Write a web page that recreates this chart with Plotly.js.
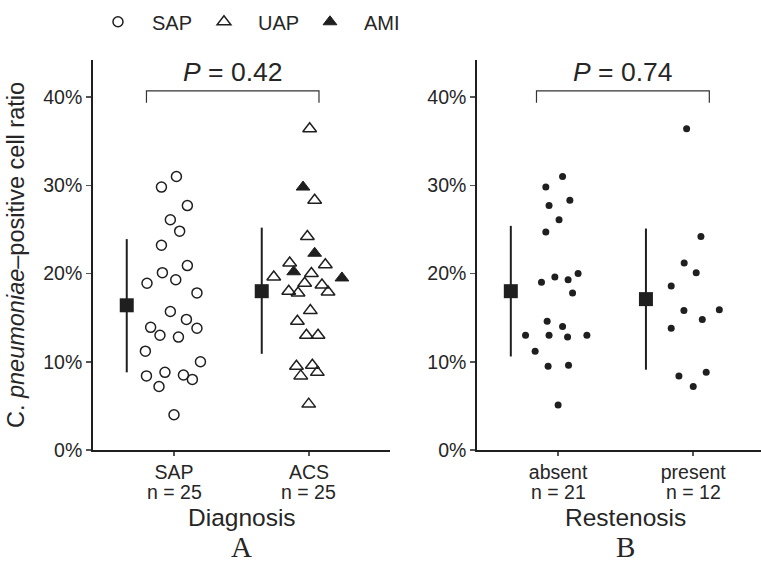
<!DOCTYPE html>
<html>
<head>
<meta charset="utf-8">
<script src="https://cdn.plot.ly/plotly-3.0.1.min.js"></script>
<style>html,body{margin:0;padding:0;background:#fff;overflow:hidden}#chart{width:761px;height:565px}</style>
</head>
<body>
<div id="chart"></div>
<script>
// ---- Data (percent values) ----
// Panel A: Diagnosis
var sapValues = [31.0, 29.8, 27.7, 26.1, 24.8, 23.2, 20.9, 20.1, 19.3, 18.9, 17.8, 15.7, 14.8, 13.9, 13.8, 13.0, 12.8, 11.2, 10.0, 8.4, 8.8, 8.5, 8.0, 7.2, 4.0];
var sapJitter = [0.018, -0.093, 0.099, -0.027, 0.042, -0.093, 0.099, -0.086, 0.013, -0.2, 0.17, -0.027, 0.092, -0.173, 0.17, -0.104, 0.033, -0.212, 0.196, -0.204, -0.067, 0.07, 0.136, -0.111, 0.0];
var uapValues = [36.4, 28.3, 24.2, 21.2, 21.0, 20.0, 19.6, 18.9, 18.7, 18.0, 17.8, 17.9, 15.8, 14.6, 13.0, 13.0, 9.5, 9.6, 8.4, 8.8, 5.2];
var uapJitter = [0.005, 0.042, -0.012, -0.143, 0.121, 0.018, -0.261, -0.032, 0.096, -0.15, -0.081, 0.141, 0.01, -0.086, -0.019, 0.067, -0.093, 0.025, -0.061, 0.062, -0.002];
var amiValues = [29.8, 22.3, 20.2, 19.5];
var amiJitter = [-0.044, 0.042, -0.113, 0.244];
var diagCategories = ['SAP', 'ACS'];
var diagN = [25, 25];
var diagMean = [16.4, 18.0];
var diagLow = [8.8, 10.9];
var diagHigh = [23.9, 25.2];
var diagPValue = '0.42';

// Panel B: Restenosis
var absentValues = [31.0, 29.8, 28.3, 27.7, 26.1, 24.7, 20.0, 19.6, 19.3, 19.0, 17.8, 14.6, 14.0, 13.0, 13.0, 12.8, 11.2, 9.5, 9.6, 5.1, 13.0];
var absentJitter = [0.033, -0.091, 0.087, -0.067, 0.007, -0.091, 0.148, -0.024, 0.074, -0.123, 0.107, -0.081, 0.033, -0.241, -0.067, 0.07, -0.17, -0.074, 0.077, 0, 0.213];
var presentValues = [36.4, 24.2, 21.2, 20.1, 18.6, 15.8, 15.9, 14.8, 13.8, 8.4, 8.8, 7.2];
var presentJitter = [-0.049, 0.057, -0.067, 0.022, -0.163, -0.069, 0.193, 0.067, -0.163, -0.106, 0.096, 0];
var restCategories = ['absent', 'present'];
var restN = [21, 12];
var restMean = [18.0, 17.1];
var restLow = [10.6, 9.1];
var restHigh = [25.4, 25.1];
var restPValue = '0.74';

var yTicks = [0, 10, 20, 30, 40];

// ---- Styles ----
var ink = '#1f1f1f';
var textCol = '#262626';
var sans = 'Liberation Sans, Arial, Helvetica, sans-serif';
var serif = 'Liberation Serif, Times New Roman, serif';
var summaryOffset = -0.35;

function place(cat, jit) { return jit.map(function (j) { return cat + j; }); }

var traces = [];
traces.push({
  x: place(1, sapJitter), y: sapValues, xaxis: 'x', yaxis: 'y',
  type: 'scatter', mode: 'markers', name: 'SAP', showlegend: true,
  marker: { symbol: 'circle-open', size: 10, color: ink, line: { width: 1.5, color: ink } },
  hoverinfo: 'y'
});
traces.push({
  x: place(2, uapJitter), y: uapValues, xaxis: 'x', yaxis: 'y',
  type: 'scatter', mode: 'markers', name: 'UAP', showlegend: true,
  marker: { symbol: 'triangle-up-open', size: 12, color: ink, line: { width: 1.5, color: ink } },
  hoverinfo: 'y'
});
traces.push({
  x: place(2, amiJitter), y: amiValues, xaxis: 'x', yaxis: 'y',
  type: 'scatter', mode: 'markers', name: 'AMI', showlegend: true,
  marker: { symbol: 'triangle-up', size: 12, color: ink, line: { width: 1, color: ink } },
  hoverinfo: 'y'
});
traces.push({
  x: [1 + summaryOffset, 2 + summaryOffset], y: diagMean, xaxis: 'x', yaxis: 'y',
  type: 'scatter', mode: 'markers', showlegend: false,
  marker: { symbol: 'square', size: 14, color: ink },
  error_y: { type: 'data', symmetric: false,
    array: diagHigh.map(function (h, i) { return h - diagMean[i]; }),
    arrayminus: diagLow.map(function (l, i) { return diagMean[i] - l; }),
    color: ink, thickness: 2, width: 0 }
});
traces.push({
  x: place(1, absentJitter), y: absentValues, xaxis: 'x2', yaxis: 'y2',
  type: 'scatter', mode: 'markers', showlegend: false,
  marker: { symbol: 'circle', size: 7, color: ink }, hoverinfo: 'y'
});
traces.push({
  x: place(2, presentJitter), y: presentValues, xaxis: 'x2', yaxis: 'y2',
  type: 'scatter', mode: 'markers', showlegend: false,
  marker: { symbol: 'circle', size: 7, color: ink }, hoverinfo: 'y'
});
traces.push({
  x: [1 + summaryOffset, 2 + summaryOffset], y: restMean, xaxis: 'x2', yaxis: 'y2',
  type: 'scatter', mode: 'markers', showlegend: false,
  marker: { symbol: 'square', size: 14, color: ink },
  error_y: { type: 'data', symmetric: false,
    array: restHigh.map(function (h, i) { return h - restMean[i]; }),
    arrayminus: restLow.map(function (l, i) { return restMean[i] - l; }),
    color: ink, thickness: 2, width: 0 }
});

function xAxis(domain, range, cats) {
  return {
    domain: domain, range: range, showgrid: false, zeroline: false,
    showline: true, linecolor: ink, linewidth: 1.8,
    ticks: 'outside', ticklen: 4, tickwidth: 1.5, tickcolor: '#555',
    tickvals: [1, 2], ticktext: cats,
    tickfont: { family: sans, size: 19.5, color: textCol },
    fixedrange: true
  };
}
function yAxis(anchor, title) {
  var a = {
    anchor: anchor, domain: [0, 1], range: [0, 44.2], showgrid: false, zeroline: false,
    showline: true, linecolor: ink, linewidth: 1.8,
    ticks: 'outside', ticklen: 5, tickwidth: 1.5, tickcolor: '#555',
    tickvals: yTicks, ticktext: yTicks.map(function (t) { return t + '%'; }),
    tickfont: { family: sans, size: 19.5, color: textCol },
    fixedrange: true
  };
  if (title) a.title = { text: title, font: { family: sans, size: 23.5, color: textCol }, standoff: 12 };
  return a;
}

function nLabel(xref, cat, n) {
  return { xref: xref, yref: 'paper', x: cat, y: -0.107, text: 'n = ' + n, showarrow: false,
    font: { family: sans, size: 19.5, color: textCol }, xanchor: 'center', yanchor: 'middle' };
}

var annotations = [
  { xref: 'x', yref: 'y', x: 1.435, y: 42.8, text: '<i>P</i> = ' + diagPValue, showarrow: false, font: { family: sans, size: 26.5, color: textCol }, xanchor: 'center', yanchor: 'middle' },
  { xref: 'x2', yref: 'y2', x: 1.48, y: 42.8, text: '<i>P</i> = ' + restPValue, showarrow: false, font: { family: sans, size: 26.5, color: textCol }, xanchor: 'center', yanchor: 'middle' },
  { xref: 'x', yref: 'paper', x: 1.5, y: -0.172, text: 'Diagnosis', showarrow: false, font: { family: sans, size: 24.5, color: textCol }, xanchor: 'center', yanchor: 'middle' },
  { xref: 'x2', yref: 'paper', x: 1.5, y: -0.172, text: 'Restenosis', showarrow: false, font: { family: sans, size: 24.5, color: textCol }, xanchor: 'center', yanchor: 'middle' },
  { xref: 'x', yref: 'paper', x: 1.5, y: -0.2935, text: 'A', showarrow: false, font: { family: serif, size: 29, color: textCol }, xanchor: 'center', yanchor: 'bottom', borderpad: 0 },
  { xref: 'x2', yref: 'paper', x: 1.5, y: -0.2935, text: 'B', showarrow: false, font: { family: serif, size: 29, color: textCol }, xanchor: 'center', yanchor: 'bottom', borderpad: 0 }
];
diagCategories.forEach(function (c, i) { annotations.push(nLabel('x', i + 1, diagN[i])); });
restCategories.forEach(function (c, i) { annotations.push(nLabel('x2', i + 1, restN[i])); });

var layout = {
  width: 761, height: 565,
  margin: { l: 93, r: 0, t: 60, b: 115 },
  paper_bgcolor: '#fff', plot_bgcolor: '#fff',
  font: { family: sans, color: textCol },
  xaxis: xAxis([0, 0.4446], [0.4, 2.6], diagCategories),
  yaxis: yAxis('x', 'C. <i>pneumoniae</i>–positive cell ratio'),
  xaxis2: xAxis([0.5749, 1], [0.4, 2.5015], restCategories),
  yaxis2: yAxis('x2', null),
  showlegend: true,
  legend: {
    orientation: 'h', x: -0.0135, xanchor: 'left', y: 1.098, yanchor: 'middle',
    font: { family: sans, size: 20, color: textCol },
    bgcolor: 'rgba(0,0,0,0)', entrywidth: 33, itemwidth: 58
  },
  shapes: [
    { type: 'path', xref: 'x', yref: 'y', path: 'M0.796,39.35 L0.796,40.7 L2.074,40.7 L2.074,39.35', line: { color: '#333', width: 1.2 } },
    { type: 'path', xref: 'x2', yref: 'y2', path: 'M0.84,39.35 L0.84,40.7 L2.119,40.7 L2.119,39.35', line: { color: '#333', width: 1.2 } }
  ],
  annotations: annotations
};

Plotly.newPlot('chart', traces, layout, { displayModeBar: false, staticPlot: true });
</script>
</body>
</html>
